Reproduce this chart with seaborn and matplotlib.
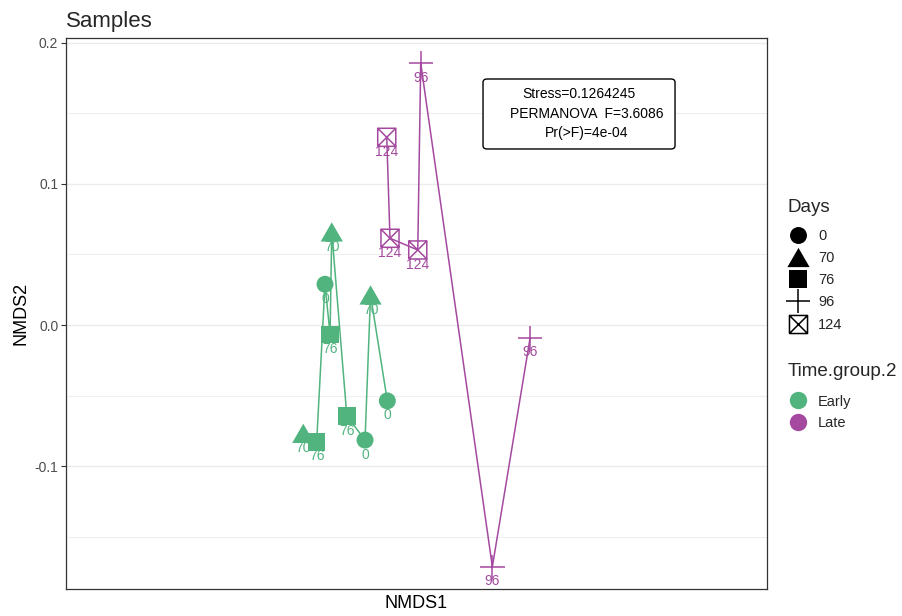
import matplotlib
matplotlib.use("Agg")
import matplotlib.pyplot as plt
from matplotlib.path import Path
from matplotlib.lines import Line2D
from matplotlib.patches import FancyBboxPatch
import pandas as pd
import seaborn as sns

# NMDS site scores
nmds1 = [-0.0803, -0.0708, -0.0649, -0.0613, -0.0601, -0.0494, -0.0365, -0.0326, -0.0207,
         -0.0211, -0.0188, 0.0009, 0.0030, 0.0538, 0.0806]
nmds2 = [-0.0768, -0.0828, 0.0289, -0.0067, 0.0660, -0.0645, -0.0816, 0.0213, -0.0538,
         0.1331, 0.0615, 0.0532, 0.1856, -0.1714, -0.0090]
days = [70, 76, 0, 76, 70, 76, 0, 70, 0, 124, 124, 124, 96, 96, 96]
time_group = ["Early"] * 9 + ["Late"] * 6

day_levels = [0, 70, 76, 96, 124]
group_levels = ["Early", "Late"]
y_ticks = [-0.1, 0.0, 0.1, 0.2]
y_tick_labels = ["-0.1", "0.0", "0.1", "0.2"]
y_minor_ticks = [-0.15, -0.05, 0.05, 0.15]

stats_lines = ["Stress=0.1264245", "PERMANOVA  F=3.6086", "Pr(>F)=4e-04"]

group_colors = {"Early": "#51B47F", "Late": "#A4499F"}

df = pd.DataFrame({"NMDS1": nmds1, "NMDS2": nmds2, "Days": days,
                   "Time.group.2": time_group})

sns.set_theme(style="white")
plt.rcParams["font.family"] = ["Liberation Sans", "DejaVu Sans"]
plt.rcParams["axes.unicode_minus"] = False

# square with a cross inside, and an equilateral triangle
boxx_path = Path(
    [(-0.5, -0.5), (0.5, -0.5), (0.5, 0.5), (-0.5, 0.5), (-0.5, -0.5),
     (-0.5, -0.5), (0.5, 0.5), (-0.5, 0.5), (0.5, -0.5)],
    [Path.MOVETO, Path.LINETO, Path.LINETO, Path.LINETO, Path.LINETO,
     Path.MOVETO, Path.LINETO, Path.MOVETO, Path.LINETO])
tri_path = Path([(-0.5, -0.433), (0.5, -0.433), (0.0, 0.433), (-0.5, -0.433)],
                [Path.MOVETO, Path.LINETO, Path.LINETO, Path.CLOSEPOLY])

day_marker = {0: "o", 70: tri_path, 76: "s", 96: "+", 124: boxx_path}
day_size = {0: 12.2, 70: 16.0, 76: 12.7, 96: 17.5, 124: 13.0}

fig = plt.figure(figsize=(9.03, 6.16), dpi=100)
ax = fig.add_axes([66 / 903, 1 - 589 / 616, 701 / 903, 550.7 / 616])

sns.lineplot(data=df, x="NMDS1", y="NMDS2", hue="Time.group.2", palette=group_colors,
             hue_order=group_levels, estimator=None, sort=True, legend=False,
             linewidth=1.1, ax=ax, zorder=2)

for d in [0, 70, 76, 96]:
    sub = df[df["Days"] == d]
    kws = dict(linewidth=1.1) if d == 96 else dict(linewidth=0)
    sns.scatterplot(data=sub, x="NMDS1", y="NMDS2", hue="Time.group.2",
                    palette=group_colors, hue_order=group_levels,
                    marker=day_marker[d], s=day_size[d] ** 2, legend=False,
                    ax=ax, zorder=3, **kws)

# open square with a cross: outline only
sub = df[df["Days"] == 124]
ax.scatter(sub["NMDS1"], sub["NMDS2"], marker=boxx_path, s=day_size[124] ** 2,
           facecolors="none", edgecolors=[group_colors[g] for g in sub["Time.group.2"]],
           linewidths=1.1, zorder=3)

for x, y, d, g in zip(nmds1, nmds2, days, time_group):
    ax.annotate(str(d), (x, y), xytext=(0, -10.5), textcoords="offset points",
                ha="center", va="center", fontsize=10, color=group_colors[g], zorder=4)

ax.set_xlim(-0.2486, 0.2486)
ax.set_ylim(-0.1872, 0.2033)
ax.set_xticks([])
ax.set_yticks(y_ticks)
ax.set_yticklabels(y_tick_labels)
ax.set_yticks(y_minor_ticks, minor=True)
ax.grid(axis="y", which="major", color="#EBEBEB", linewidth=1.0, zorder=0)
ax.grid(axis="y", which="minor", color="#EFEFEF", linewidth=0.8, zorder=0)
ax.set_axisbelow(True)
ax.tick_params(axis="y", which="major", length=3.5, width=0.8, color="#333333",
               labelcolor="#4D4D4D", labelsize=10, pad=2, left=True)
ax.tick_params(axis="y", which="minor", length=0)
for sp in ax.spines.values():
    sp.set_visible(True)
    sp.set_color("#333333")
    sp.set_linewidth(0.9)
ax.set_xlabel("NMDS1", fontsize=13, color="black", labelpad=4)
ax.set_ylabel("NMDS2", fontsize=13, color="black", labelpad=4)

fig.text(66 / 903, 1 - 27 / 616, "Samples", fontsize=16, ha="left", va="baseline")

# statistics box
box = FancyBboxPatch((0.5949, 0.799), 0.2739, 0.1271, transform=ax.transAxes,
                     boxstyle="round,pad=0,rounding_size=0.006", facecolor="white",
                     edgecolor="black", linewidth=1.0, zorder=5)
ax.add_patch(box)
for (tx, ty), line in zip([(0.7318, 0.8989), (0.7425, 0.8625), (0.7425, 0.8280)], stats_lines):
    ax.text(tx, ty, line, transform=ax.transAxes, ha="center", va="center",
            fontsize=10, color="black", zorder=6)

# legends
days_handles = []
for d in day_levels:
    if d in (0, 70, 76):
        h = Line2D([], [], linestyle="None", marker=day_marker[d], markersize=day_size[d],
                   markerfacecolor="black", markeredgewidth=0, color="black")
    else:
        h = Line2D([], [], linestyle="None", marker=day_marker[d],
                   fillstyle="none", markersize=day_size[d], markeredgecolor="black",
                   markeredgewidth=1.1, color="black")
    days_handles.append(h)

fig.text(788 / 903, 1 - 208 / 616, "Days", fontsize=13.5, ha="left", va="center")
fig.legend(days_handles, [str(d) for d in day_levels],
           loc="upper left", bbox_to_anchor=(789 / 903, 1 - 229 / 616),
           frameon=False, fontsize=10.5, handlelength=1.25, handletextpad=0.75,
           labelspacing=0.56, borderpad=0, borderaxespad=0)

grp_handles = [Line2D([], [], linestyle="None", marker="o", markersize=12.5,
                      markerfacecolor=group_colors[g], markeredgewidth=0)
               for g in group_levels]
fig.text(788 / 903, 1 - 371 / 616, "Time.group.2", fontsize=13.5, ha="left", va="center")
fig.legend(grp_handles, group_levels,
           loc="upper left", bbox_to_anchor=(789 / 903, 1 - 394.5 / 616),
           frameon=False, fontsize=10.5, handlelength=1.25, handletextpad=0.75,
           labelspacing=0.52, borderpad=0, borderaxespad=0)

fig.savefig("out.png", dpi=100, facecolor="white")
